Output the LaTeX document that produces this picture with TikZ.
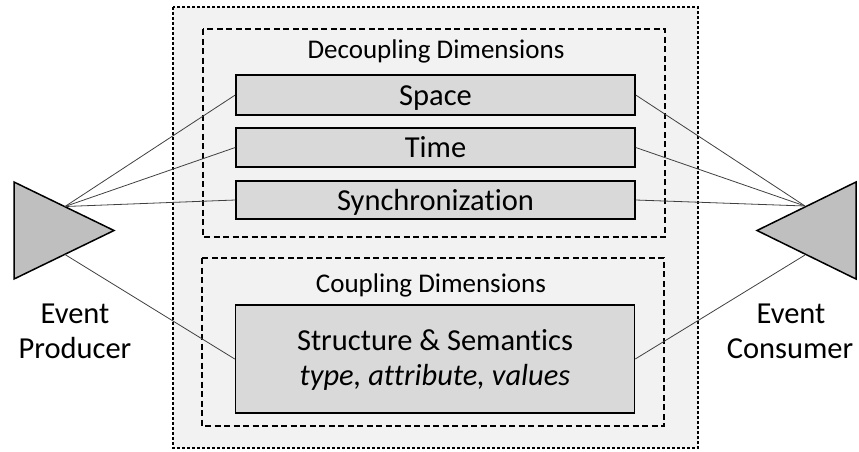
\documentclass[tikz,border=0pt]{standalone}
\usepackage{fontspec}
\setmainfont{Carlito}[Ligatures=NoCommon]
\definecolor{panelfill}{HTML}{F2F2F2}
\definecolor{boxfill}{HTML}{D9D9D9}
\definecolor{trifill}{HTML}{BFBFBF}
\definecolor{linkcol}{HTML}{404040}
\begin{document}
\begin{tikzpicture}[x=1pt,y=-1pt,
  panel/.style={draw=black,fill=panelfill,line width=1.5pt,dash pattern=on 3pt off 2pt},
  groupbox/.style={draw=black,line width=1.3pt,dash pattern=on 6pt off 3.5pt},
  dimbox/.style={draw=black,fill=boxfill,line width=1.5pt,rectangle,inner sep=0pt,
    text height=20pt,text depth=0pt,
    minimum width=399pt,font=\fontsize{30.5}{35}\selectfont},
  grouptitle/.style={anchor=base,inner sep=0pt,font=\fontsize{27}{32}\selectfont},
  actor/.style={draw=black,fill=trifill,line width=1.5pt,line join=miter},
  actorlabel/.style={anchor=base,inner sep=0pt,font=\fontsize{30.5}{35}\selectfont},
  link/.style={draw=linkcol,line width=0.8pt}]
\useasboundingbox (0,0) rectangle (859,451);

% outer panel and the two groups
\draw[panel] (173,7) rectangle (698,448);
\draw[groupbox] (203,29) rectangle (665,237);
\draw[groupbox] (202,258) rectangle (664,426);

\node[grouptitle] (dectitle) at (436,58) {Decoupling Dimensions};
\node[grouptitle] (coutitle) at (431,292) {Coupling Dimensions};

% dimension boxes
\node[dimbox,minimum height=40pt] (space) at (435.5,95) {Space};
\node[dimbox,minimum height=39pt] (time) at (435.5,147.5) {Time};
\node[dimbox,minimum height=38pt] (sync) at (435.5,200) {Synchronization};
\node[dimbox,minimum height=108pt,text height=0pt] (struct) at (435,359) {};
\node[anchor=base,inner sep=0pt,font=\fontsize{30.5}{35}\selectfont]
  (structname) at (435,350) {Structure \& Semantics};
\node[anchor=base,inner sep=0pt,font=\fontsize{30.5}{35}\selectfont\itshape]
  (structattr) at (435,385) {type, attribute, values};

% producer and consumer
\draw[actor] (14,182) -- (114,230.5) -- (14,279) -- cycle;
\draw[actor] (856,182) -- (757,230.5) -- (856,279) -- cycle;
\coordinate (prodtop) at (65,206.5);
\coordinate (prodbot) at (65,254.5);
\coordinate (constop) at (805,206);
\coordinate (consbot) at (805,255);

\node[actorlabel] (prodword1) at (75,323) {Event};
\node[actorlabel] (prodword2) at (75,358) {Producer};
\node[actorlabel] (consword1) at (791,323) {Event};
\node[actorlabel] (consword2) at (790,358) {Consumer};

% connectors
\draw[link] (prodtop) -- (space.west);
\draw[link] (prodtop) -- (time.west);
\draw[link] (prodtop) -- (sync.west);
\draw[link] (prodbot) -- (struct.west);
\draw[link] (constop) -- (space.east);
\draw[link] (constop) -- (time.east);
\draw[link] (constop) -- (sync.east);
\draw[link] (consbot) -- (struct.east);
\end{tikzpicture}
\end{document}
